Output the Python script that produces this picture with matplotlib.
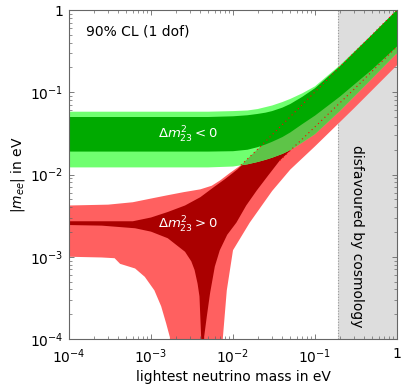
import numpy as np
import matplotlib
matplotlib.use("Agg")
import matplotlib.pyplot as plt
from matplotlib.patches import Polygon

# values (eV)
# normal ordering, 90% CL band (light red)
nh_light_hi_m = [1e-4, 3e-4, 6e-4, 1e-3, 1.6e-3, 2.5e-3, 4e-3, 5.5e-3, 7e-3, 9e-3, 0.0125, 0.02, 0.05, 0.1, 0.3, 1.0]
nh_light_hi = [0.0042, 0.0043, 0.0046, 0.0051, 0.0056, 0.0061, 0.0066, 0.0073, 0.0085, 0.0103, 0.0130, 0.0203, 0.0505, 0.101, 0.302, 1.0]
nh_light_lo_m = [1e-4, 2.5e-4, 3.6e-4, 4.2e-4, 6.4e-4, 8.4e-4, 1.1e-3, 1.33e-3, 1.53e-3, 1.7e-3, 1.75e-3,
                 7.3e-3, 7.5e-3, 8.4e-3, 1.0e-2, 1.6e-2, 3.0e-2, 5.0e-2, 0.1, 0.3, 1.0]
nh_light_lo = [1.0e-3, 9.8e-4, 9.6e-4, 8.2e-4, 7.2e-4, 5.7e-4, 3.9e-4, 2.5e-4, 1.55e-4, 1.05e-4, 1e-6,
               1e-6, 1.0e-4, 3.9e-4, 1.2e-3, 2.6e-3, 6.3e-3, 1.15e-2, 2.2e-2, 6.4e-2, 0.213]

# normal ordering, best fit (dark red)
nh_dark_hi_m = [1e-4, 6e-4, 1e-3, 1.6e-3, 2.6e-3, 4e-3, 5.7e-3, 8e-3, 0.0114, 0.02, 0.05, 0.1, 0.3, 1.0]
nh_dark_hi = [0.0027, 0.0027, 0.0030, 0.0035, 0.0042, 0.0053, 0.0069, 0.0088, 0.0116, 0.0201, 0.0502, 0.1005, 0.301, 0.995]
nh_dark_lo_m = [1e-4, 2.5e-4, 6.4e-4, 1e-3, 1.6e-3, 2.6e-3, 3.1e-3, 3.4e-3, 3.7e-3, 3.9e-3, 4.1e-3, 4.2e-3,
                4.35e-3, 4.45e-3, 4.8e-3, 5.25e-3, 6e-3, 6.9e-3, 8.5e-3, 1.1e-2, 1.45e-2, 1.95e-2, 2.7e-2,
                3.7e-2, 0.1, 0.3, 1.0]
nh_dark_lo = [2.43e-3, 2.39e-3, 2.22e-3, 2.02e-3, 1.68e-3, 1.15e-3, 8.8e-4, 6.9e-4, 4.7e-4, 3.3e-4, 1.0e-4, 1e-6,
              1e-6, 1.07e-4, 1.9e-4, 3.6e-4, 7.6e-4, 1.2e-3, 1.85e-3, 2.6e-3, 4.2e-3, 6.4e-3, 9.8e-3,
              0.0147, 0.038, 0.109, 0.36]

# inverted ordering (green)
ih_m = [1e-4, 1e-3, 0.005, 0.01, 0.015, 0.02, 0.025, 0.03, 0.04, 0.05, 0.07, 0.1, 0.2, 0.5, 1.0]
ih_light_hi = [0.058, 0.058, 0.058, 0.0590, 0.0600, 0.0625, 0.0660, 0.0690, 0.0760, 0.0830, 0.0970, 0.118, 0.212, 0.508, 1.01]
ih_dark_hi = [0.050, 0.050, 0.050, 0.0510, 0.0525, 0.0545, 0.0565, 0.0590, 0.0650, 0.0720, 0.0880, 0.1120, 0.2060, 0.5030, 1.0]
ih_dark_lo = [0.019, 0.019, 0.019, 0.0192, 0.0200, 0.0215, 0.0232, 0.0250, 0.0285, 0.0325, 0.0410, 0.0520, 0.0880, 0.190, 0.360]
ih_light_lo = [0.0122, 0.0122, 0.0122, 0.0125, 0.0133, 0.0142, 0.0151, 0.0160, 0.0178, 0.0198, 0.0245, 0.0310, 0.0590, 0.148, 0.300]

cosmo_limit = 0.19
tick_vals = [1e-4, 1e-3, 1e-2, 1e-1, 1]
tick_labels = ['$10^{-4}$', '$10^{-3}$', '$10^{-2}$', '$10^{-1}$', '1']


def band(xhi, yhi, xlo, ylo):
    return list(xhi) + list(xlo)[::-1], list(yhi) + list(ylo)[::-1]


fig = plt.figure(figsize=(4.1, 3.9), dpi=100)
ax = fig.add_axes([69/410, 51/390, 328/410, 329/390])
ax.set_xscale('log')
ax.set_yscale('log')
ax.set_xlim(1e-4, 1)
ax.set_ylim(1e-4, 1)

# cosmology
ax.axvspan(cosmo_limit, 1, color='#dddddd', lw=0, zorder=0)
ax.axvline(cosmo_limit, color='#999999', ls=(0, (1, 1.5)), lw=0.8, zorder=0.5)

# normal ordering
x, y = band(nh_light_hi_m, nh_light_hi, nh_light_lo_m, nh_light_lo)
ax.fill(x, y, color='#ff6060', lw=0, zorder=1)
x, y = band(nh_dark_hi_m, nh_dark_hi, nh_dark_lo_m, nh_dark_lo)
ax.fill(x, y, color='#aa0000', lw=0, zorder=2)

# inverted ordering
x, y = band(ih_m, ih_light_hi, ih_m, ih_light_lo)
ax.fill(x, y, color='#70ff70', lw=0, zorder=3)
# where the light green sits on red it looks darker
clip = Polygon(np.column_stack([x, y]), closed=True, transform=ax.transData)
xr, yr = band(nh_light_hi_m, nh_light_hi, nh_light_lo_m, nh_light_lo)
over = ax.fill(xr, yr, color='#5ec448', lw=0, zorder=4)[0]
over.set_clip_path(clip)
x, y = band(ih_m, ih_dark_hi, ih_m, ih_dark_lo)
ax.fill(x, y, color='#00aa00', lw=0, zorder=5)

# red edges shown through the green
m = np.array(nh_light_hi_m)
ax.plot(m[m >= 0.0125], np.array(nh_light_hi)[m >= 0.0125], color='red', ls=(0, (1, 3)), lw=0.8, zorder=6)
m = np.array(nh_dark_lo_m)
ax.plot(m[m >= 0.037], np.array(nh_dark_lo)[m >= 0.037], color='red', ls=(0, (1, 3)), lw=0.8, zorder=6)

ax.text(0.052, 0.936, '90% CL (1 dof)', transform=ax.transAxes, ha='left', va='center', fontsize=10)
ax.text(0.363, 0.62, r'$\mathit{\Delta} m^2_{23} < 0$', transform=ax.transAxes, ha='center', va='center',
        color='white', fontsize=9.5, zorder=7)
ax.text(0.363, 0.347, r'$\mathit{\Delta} m^2_{23} > 0$', transform=ax.transAxes, ha='center', va='center',
        color='white', fontsize=9.5, zorder=7)
ax.text(0.878, 0.313, 'disfavoured by cosmology', transform=ax.transAxes, ha='center', va='center',
        rotation=-90, fontsize=10, zorder=7)

ax.set_xticks(tick_vals)
ax.set_xticklabels(tick_labels)
ax.set_yticks(tick_vals)
ax.set_yticklabels(tick_labels)
ax.tick_params(which='both', direction='in', top=True, right=True, color='#666666', labelsize=10)
ax.tick_params(which='major', length=3.5, width=0.6)
ax.tick_params(which='minor', length=2.2, width=0.5)
ax.tick_params(axis='x', pad=6)
ax.tick_params(axis='y', pad=4)
for s in ax.spines.values():
    s.set_color('#666666')
    s.set_linewidth(0.8)
    s.set_zorder(8)

ax.set_xlabel('lightest neutrino mass in eV', fontsize=10, labelpad=3)
ax.set_ylabel(r'$|m_{ee}|$ in eV', fontsize=10, labelpad=2)

fig.savefig('out.png', dpi=100)
